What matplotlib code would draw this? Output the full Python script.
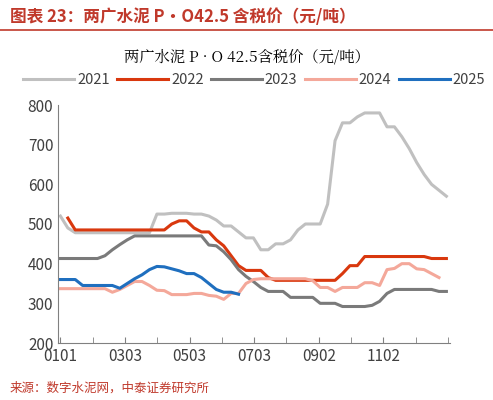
import numpy as np
import matplotlib
matplotlib.use('Agg')
import matplotlib.pyplot as plt

plt.rcParams['font.family'] = ['Noto Sans CJK SC', 'DejaVu Sans']

years = ['2021', '2022', '2023', '2024', '2025']
colors = ['#c0c0c0', '#d9380e', '#7a7a7a', '#f4a89a', '#1f6fbf']

y2021 = [520, 490, 478, 478, 478, 478, 478, 478, 478, 478, 478, 478, 478, 525, 525, 527, 527, 527, 525, 525,
         520, 510, 495, 495, 480, 465, 465, 435, 435, 450, 450, 460, 485, 500, 500, 500, 550, 710, 755, 755,
         770, 780, 780, 780, 745, 745, 720, 690, 655, 625, 600, 585, 570]
y2022 = [None, 515, 485, 485, 485, 485, 485, 485, 485, 485, 485, 485, 485, 485, 485, 500, 508, 508, 490, 480,
         480, 460, 445, 420, 395, 383, 383, 383, 365, 358, 358, 358, 358, 358, 358, 358, 358, 358, 375, 395,
         395, 418, 418, 418, 418, 418, 418, 418, 418, 418, 413, 413, 413]
y2023 = [413, 413, 413, 413, 413, 413, 420, 435, 448, 460, 470, 470, 470, 470, 470, 470, 470, 470, 470, 470,
         447, 445, 430, 410, 385, 368, 355, 340, 330, 330, 330, 315, 315, 315, 315, 300, 300, 300, 292, 292,
         292, 292, 295, 305, 325, 335, 335, 335, 335, 335, 335, 330, 330]
y2024 = [337, 337, 337, 337, 337, 337, 337, 328, 335, 345, 355, 355, 345, 333, 332, 322, 322, 322, 325, 325,
         320, 318, 310, 325, 325, 350, 360, 362, 362, 362, 362, 362, 362, 362, 357, 340, 340, 330, 340, 340,
         340, 352, 352, 345, 385, 388, 400, 400, 387, 385, 375, 365]
y2025 = [360, 360, 360, 345, 345, 345, 345, 345, 338, 350, 362, 372, 385, 393, 392, 387, 382, 375, 375, 365,
         350, 335, 328, 328, 323]
series = [y2021, y2022, y2023, y2024, y2025]

tick_labels = ['0101', '0303', '0503', '0703', '0902', '1102']
tick_weeks = [0, 8.7, 17.4, 26.1, 34.8, 43.5]

fig = plt.figure(figsize=(4.93, 4.0), dpi=100)
ax = fig.add_axes([0.118, 0.1425, 0.795, 0.595])

for name, vals, c in zip(years, series, colors):
    v = np.array([np.nan if x is None else x for x in vals], dtype=float)
    ax.plot(np.arange(len(v)), v, color=c, lw=2.2, label=name)

ax.set_ylim(200, 800)
ax.set_yticks(range(200, 801, 100))
ax.set_xlim(-0.3, 52.5)
ax.set_xticks(tick_weeks)
ax.set_xticklabels(tick_labels)
ax.set_xticks(np.arange(0, 53, 4.35), minor=True)
ax.tick_params(axis='both', labelsize=11, colors='#404040')
ax.tick_params(axis='x', which='both', direction='in', length=4, color='#808080')
ax.tick_params(axis='y', length=0)
for s in ['top', 'right']:
    ax.spines[s].set_visible(False)
for s in ['left', 'bottom']:
    ax.spines[s].set_color('#808080')

ax.legend(loc='lower center', bbox_to_anchor=(0.5, 1.02), ncol=5, frameon=False,
          fontsize=10.5, handlelength=3.5, columnspacing=0.5, handletextpad=0.2,
          labelcolor='#404040')

fig.text(0.5, 0.845, '两广水泥 P · O 42.5含税价（元/吨）', ha='center', fontsize=11,
         family=['Noto Serif CJK SC', 'Noto Sans CJK SC', 'DejaVu Sans'])
fig.text(0.02, 0.945, '图表 23：两广水泥 P·O42.5 含税价（元/吨）', fontsize=12,
         color='#c0392b', fontweight='bold', style='italic')
fig.add_artist(plt.Line2D([0.0, 1.0], [0.925, 0.925], color='#c0392b', lw=1.2))
fig.text(0.02, 0.02, '来源：数字水泥网，中泰证券研究所', fontsize=9, color='#c0392b')

fig.savefig('out.png', dpi=100)
